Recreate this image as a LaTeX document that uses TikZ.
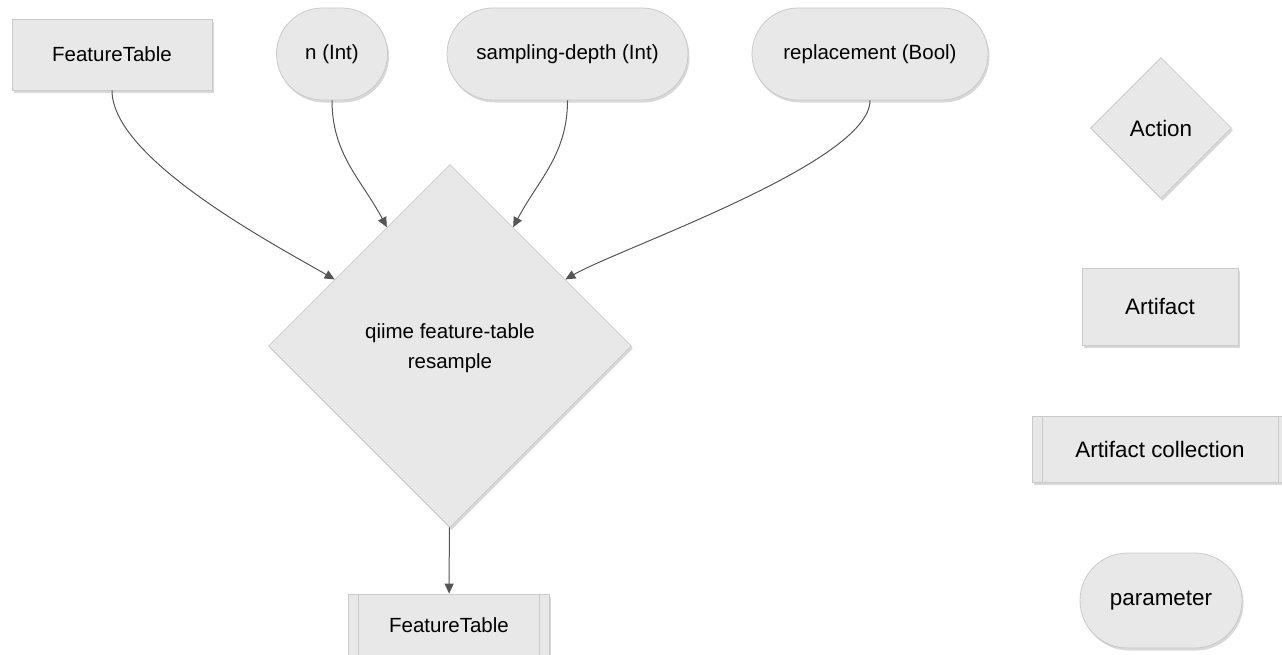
\documentclass[tikz,border=0pt]{standalone}
\usepackage{fontspec}
\setmainfont{Liberation Sans}
\usetikzlibrary{arrows.meta}
\usetikzlibrary{shapes.geometric, shadows}

\definecolor{boxfill}{HTML}{E8E8E8}
\definecolor{boxline}{HTML}{CACACA}
\definecolor{edgecol}{HTML}{555555}

\tikzset{
  box/.style={draw=boxline, fill=boxfill, line width=0.8pt, inner sep=0pt,
    drop shadow={shadow xshift=1.5pt, shadow yshift=-2.5pt, opacity=0.22, fill=black!70}},
  artifact/.style={box, rectangle},
  collection/.style={box, rectangle,
    path picture={\draw[boxline, line width=0.8pt]
      ([xshift=10pt]path picture bounding box.north west) -- ([xshift=10pt]path picture bounding box.south west)
      ([xshift=-10pt]path picture bounding box.north east) -- ([xshift=-10pt]path picture bounding box.south east);}},
  param/.style={box, rectangle, rounded corners=46pt, minimum height=92pt},
  action/.style={box, diamond, aspect=1, minimum width=#1, minimum height=#1},
  mainfont/.style={font=\fontsize{20.5}{30}\selectfont},
  legendfont/.style={font=\fontsize{22.4}{30}\selectfont}
}

\begin{document}
\begin{tikzpicture}[x=1pt, y=1pt]
    \useasboundingbox (0,0) rectangle (1282,-654);

    % inputs, the action and its output
    \begin{scope}[every node/.style={mainfont}]
    \node[artifact, minimum width=200pt, minimum height=71pt] (A) at (112,-54.5) {FeatureTable};
    \node[param, minimum width=111pt] (N) at (332,-54) {n (Int)};
    \node[param, minimum width=241pt] (S) at (567.5,-54) {sampling-depth (Int)};
    \node[param, minimum width=236pt] (R) at (870,-54) {replacement (Bool)};
    \node[action=363pt, align=center, text depth=0pt, yshift=-3pt] (Q) at (450,-343) {qiime feature-table\\resample};
    \node[collection, minimum width=201pt, minimum height=62pt] (O) at (449,-625) {FeatureTable};
    \end{scope}

    % legend
    \begin{scope}[every node/.style={legendfont}]
    \node[action=141pt] (L1) at (1161,-128) {Action};
    \node[artifact, minimum width=156pt, minimum height=77pt] (L2) at (1160,-306.5) {Artifact};
    \node[collection, minimum width=256pt, minimum height=66pt] (L3) at (1160,-449) {Artifact collection};
    \node[param, minimum width=162pt, minimum height=95pt, rounded corners=47.5pt] (L4) at (1161,-600.5) {parameter};
    \end{scope}

    % edges
    \begin{scope}[>={Triangle[length=10pt, width=9pt]},
              every edge/.style={draw=edgecol, line width=1pt}]
    \path [->] (A) edge[out=-90, in=150, looseness=0.6] (Q);
    \path [->] (N) edge[out=-90, in=118] (Q);
    \path [->] (S) edge[out=-90, in=62] (Q);
    \path [->] (R) edge[out=-90, in=30, looseness=0.45] (Q);
    \path [->] (Q) edge (O);
    \end{scope}

\end{tikzpicture}
\end{document}
